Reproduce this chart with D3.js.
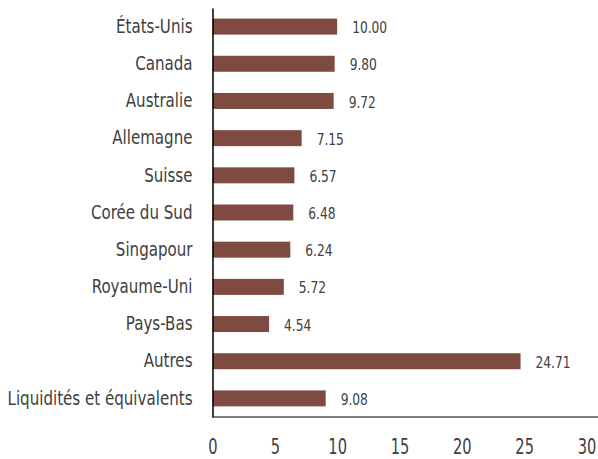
<!DOCTYPE html>
<html><head><meta charset="utf-8">
<script src="https://cdn.jsdelivr.net/npm/d3@7"></script>
<style>body{margin:0;background:#fff}</style>
</head><body>
<svg id="c" width="598" height="459"></svg>
<script>
const categories = ["États-Unis","Canada","Australie","Allemagne","Suisse","Corée du Sud","Singapour","Royaume-Uni","Pays-Bas","Autres","Liquidités et équivalents"];
const values = [10.00,9.80,9.72,7.15,6.57,6.48,6.24,5.72,4.54,24.71,9.08];
const xTicks = [0,5,10,15,20,25,30];

const svg = d3.select("#c");
const font = "'DejaVu Sans Condensed','DejaVu Sans',sans-serif";
const x = d3.scaleLinear().domain([0,30]).range([212.5,586.5]);
const y = d3.scaleBand().domain(categories).range([8,417]).paddingInner(0.57).paddingOuter(0.285);

svg.selectAll("rect.bar").data(values).join("rect").attr("class","bar")
  .attr("x", x(0)).attr("y",(d,i)=>y(categories[i]))
  .attr("width", d=>x(d)-x(0)).attr("height", y.bandwidth())
  .attr("fill","#7E4A42");

svg.selectAll("text.val").data(values).join("text").attr("class","val")
  .attr("transform",(d,i)=>`translate(${x(d)+15},${y(categories[i])+y.bandwidth()/2+1}) scale(0.85,1)`)
  .attr("dy","0.35em").attr("font-family",font).attr("font-size",16).attr("fill","#404040")
  .text(d=>d.toFixed(2));

const yAxis = d3.axisLeft(y).tickSize(0).tickPadding(20);
const gy = svg.append("g").attr("transform",`translate(${x(0)},0)`).call(yAxis);
gy.select(".domain").attr("stroke","#000").attr("stroke-width",1.5);
gy.selectAll("text").attr("font-family",font).attr("font-size",19.5).attr("fill","#404040")
  .attr("x",0).attr("transform","translate(-20,0) scale(0.86,1)");

const xAxis = d3.axisBottom(x).tickValues(xTicks).tickSize(0).tickPadding(21).tickFormat(d3.format("d"));
const gx = svg.append("g").attr("transform","translate(0,417)").call(xAxis);
gx.select(".domain").attr("d","M212.5,0H598").attr("stroke","#000").attr("stroke-width",1);
gx.selectAll("text").attr("font-family",font).attr("font-size",22).attr("fill","#404040")
  .attr("transform","scale(0.74,1)");
</script>
</body></html>
